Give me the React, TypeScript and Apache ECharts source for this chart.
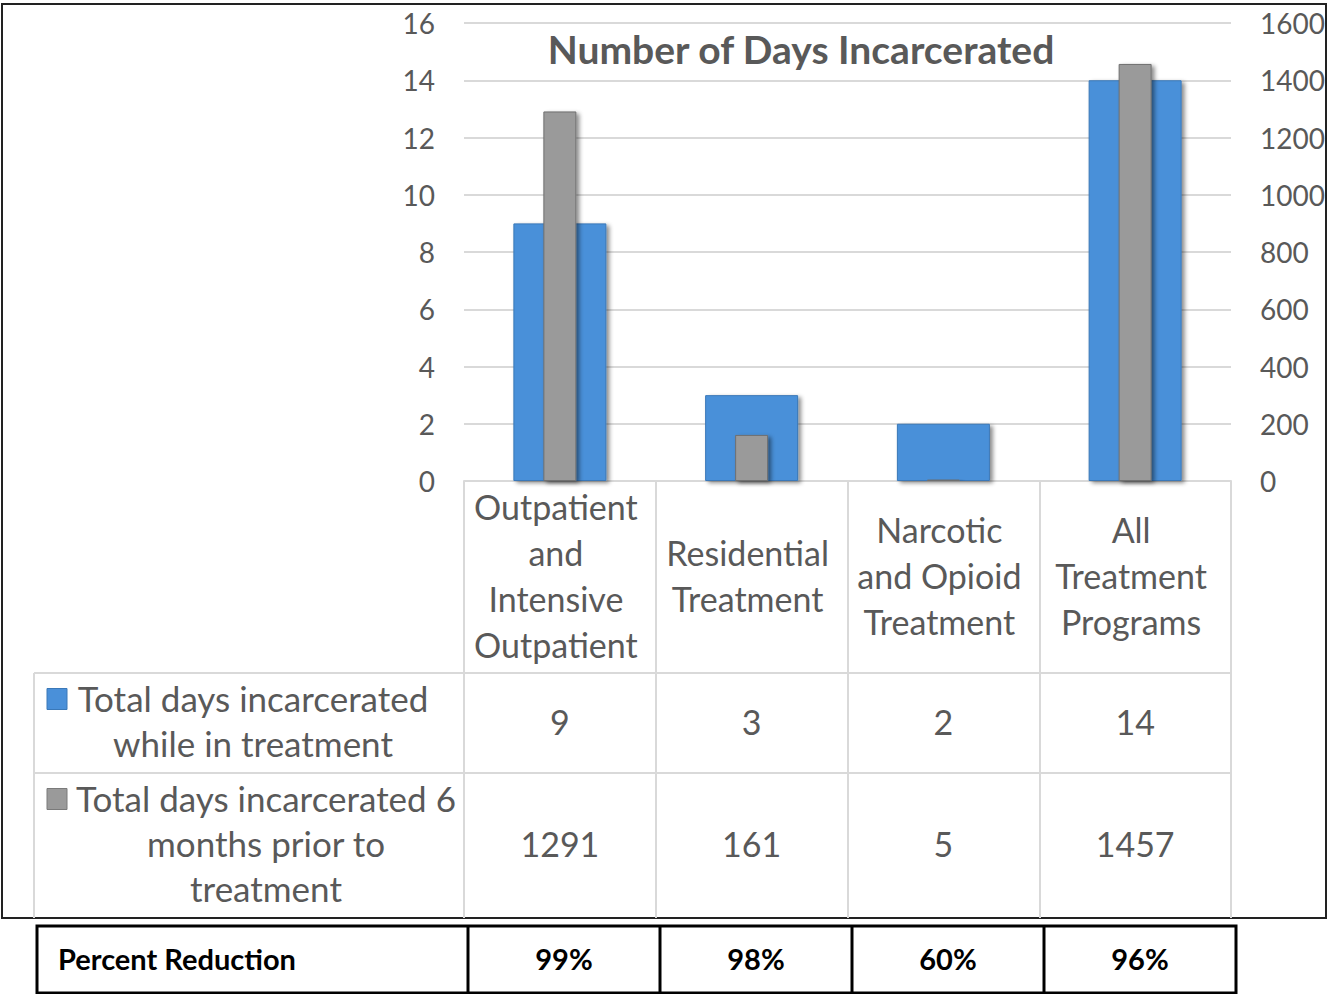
import React, { useEffect, useRef } from "react";
import * as echarts from "echarts";

const categories = [
  "Outpatient\nand\nIntensive\nOutpatient",
  "Residential\nTreatment",
  "Narcotic\nand Opioid\nTreatment",
  "All\nTreatment\nPrograms",
];
const whileInTreatment = [9, 3, 2, 14];
const priorToTreatment = [1291, 161, 5, 1457];
const percentReduction = ["99%", "98%", "60%", "96%"];
const seriesNames = [
  "Total days incarcerated\nwhile in treatment",
  "Total days incarcerated 6\nmonths prior to\ntreatment",
];
const title = "Number of Days Incarcerated";

const W = 1329;
const H = 994;
const GL = 464;
const GR = 1231;
const GT = 23;
const GB = 481;
const TEXT = "#595959";
const LINE = "#d9d9d9";
const FONT = "Lato, 'Open Sans', sans-serif";
const BLUE = "#4a90d9";
const GRAY = "#9a9a9a";

export default function App() {
  const ref = useRef<HTMLDivElement>(null);
  useEffect(() => {
    if (!ref.current) return;
    const chart = echarts.init(ref.current, undefined, { renderer: "svg" });
    const cw = (GR - GL) / categories.length;
    const row1Top = 673;
    const row2Top = 773;
    const tableBottom = 918;
    const pTop = 926;
    const pBottom = 993;
    const pLeft = 37;
    const pFirst = 468;
    const pcw = 192;

    const graphics: any[] = [];
    graphics.push({
      type: "rect",
      shape: { x: 2, y: 4, width: 1324, height: 914 },
      style: { fill: "none", stroke: "#222", lineWidth: 2 },
      z: 0,
    });
    [row1Top, row2Top].forEach((y) =>
      graphics.push({
        type: "line",
        shape: { x1: 34, y1: y, x2: GR, y2: y },
        style: { stroke: LINE, lineWidth: 2 },
      })
    );
    graphics.push({
      type: "line",
      shape: { x1: 34, y1: row1Top, x2: 34, y2: tableBottom },
      style: { stroke: LINE, lineWidth: 2 },
    });
    const rowCenters = [(row1Top + row2Top) / 2, (row2Top + tableBottom) / 2];
    const keyColors = [BLUE, GRAY];
    const labelCenters = [253, 266];
    const rowData = [whileInTreatment, priorToTreatment];
    rowCenters.forEach((yc, r) => {
      const nLines = seriesNames[r].split("\n").length;
      const firstLineY = yc - ((nLines - 1) * 45) / 2;
      graphics.push({
        type: "rect",
        shape: { x: 47, y: firstLineY - 12, width: 20, height: 21 },
        style: { fill: keyColors[r], stroke: r === 0 ? "#3a78b8" : "#7a7a7a", lineWidth: 1 },
      });
      graphics.push({
        type: "text",
        x: labelCenters[r],
        y: yc - 2.5,
        style: {
          text: seriesNames[r],
          fill: TEXT,
          font: `35px ${FONT}`,
          align: "center",
          verticalAlign: "middle",
          lineHeight: 45,
        },
      });
      rowData[r].forEach((v, i) => {
        graphics.push({
          type: "text",
          x: GL + (i + 0.5) * cw,
          y: yc - 2,
          style: {
            text: String(v),
            fill: TEXT,
            font: `34px ${FONT}`,
            align: "center",
            verticalAlign: "middle",
          },
        });
      });
    });
    graphics.push({
      type: "rect",
      shape: { x: pLeft, y: pTop, width: pFirst + pcw * 4 - pLeft, height: pBottom - pTop },
      style: { fill: "#fff", stroke: "#000", lineWidth: 3 },
    });
    for (let i = 0; i < 4; i++) {
      graphics.push({
        type: "line",
        shape: { x1: pFirst + i * pcw, y1: pTop, x2: pFirst + i * pcw, y2: pBottom },
        style: { stroke: "#000", lineWidth: 3 },
      });
    }
    graphics.push({
      type: "text",
      x: 58,
      y: 958,
      style: {
        text: "Percent Reduction",
        fill: "#000",
        font: `bold 29px ${FONT}`,
        align: "left",
        verticalAlign: "middle",
      },
    });
    percentReduction.forEach((p, i) => {
      graphics.push({
        type: "text",
        x: pFirst + (i + 0.5) * pcw,
        y: 958,
        style: {
          text: p,
          fill: "#000",
          font: `bold 29px ${FONT}`,
          align: "center",
          verticalAlign: "middle",
        },
      });
    });

    const axisLabel = { color: TEXT, fontSize: 28, fontFamily: FONT };
    chart.setOption({
      animation: false,
      backgroundColor: "#fff",
      title: {
        text: title,
        left: 796,
        top: 24,
        textAlign: "center",
        textStyle: { color: TEXT, fontSize: 39, fontWeight: "bold", fontFamily: FONT },
      },
      grid: { left: GL, right: W - GR, top: GT, bottom: H - GB, containLabel: false },
      xAxis: [
        {
          type: "category",
          data: categories,
          axisLine: { lineStyle: { color: LINE, width: 2 } },
          axisTick: { show: true, length: tableBottom - GB, lineStyle: { color: LINE, width: 2 } },
          axisLabel: {
            color: TEXT,
            fontSize: 34,
            fontFamily: FONT,
            lineHeight: 46,
            margin: (row1Top - GB) / 2 - 2,
            verticalAlign: "middle",
            padding: [0, 8, 0, 0],
            interval: 0,
          },
        },
        {
          type: "category",
          data: categories,
          show: false,
          position: "bottom",
        },
      ],
      yAxis: [
        {
          type: "value",
          min: 0,
          max: 16,
          interval: 2,
          axisLine: { show: false },
          axisTick: { show: false },
          axisLabel: { ...axisLabel, margin: 29 },
          splitLine: { lineStyle: { color: LINE, width: 2 } },
        },
        {
          type: "value",
          min: 0,
          max: 1600,
          interval: 200,
          position: "right",
          axisLine: { show: false },
          axisTick: { show: false },
          axisLabel: { ...axisLabel, margin: 29, formatter: (v: number) => String(v) },
          splitLine: { show: false },
        },
      ],
      series: [
        {
          type: "bar",
          name: "while",
          xAxisIndex: 0,
          yAxisIndex: 0,
          data: whileInTreatment,
          barWidth: 93,
          itemStyle: {
            color: BLUE,
            borderColor: "#3a78b8",
            borderWidth: 1,
            shadowColor: "rgba(0,0,0,0.45)",
            shadowBlur: 4,
            shadowOffsetX: 3,
            shadowOffsetY: 2,
          },
          z: 2,
        },
        {
          type: "bar",
          name: "prior",
          xAxisIndex: 1,
          yAxisIndex: 1,
          data: priorToTreatment,
          barWidth: 33,
          itemStyle: {
            color: GRAY,
            borderColor: "#6f6f6f",
            borderWidth: 1,
            shadowColor: "rgba(0,0,0,0.45)",
            shadowBlur: 4,
            shadowOffsetX: 3,
            shadowOffsetY: 2,
          },
          z: 3,
        },
      ],
      graphic: { elements: graphics },
    });
    return () => chart.dispose();
  }, []);
  return (
    <div
      ref={ref}
      style={{ position: "fixed", left: 0, top: 0, width: W, height: H, background: "#fff" }}
    />
  );
}
